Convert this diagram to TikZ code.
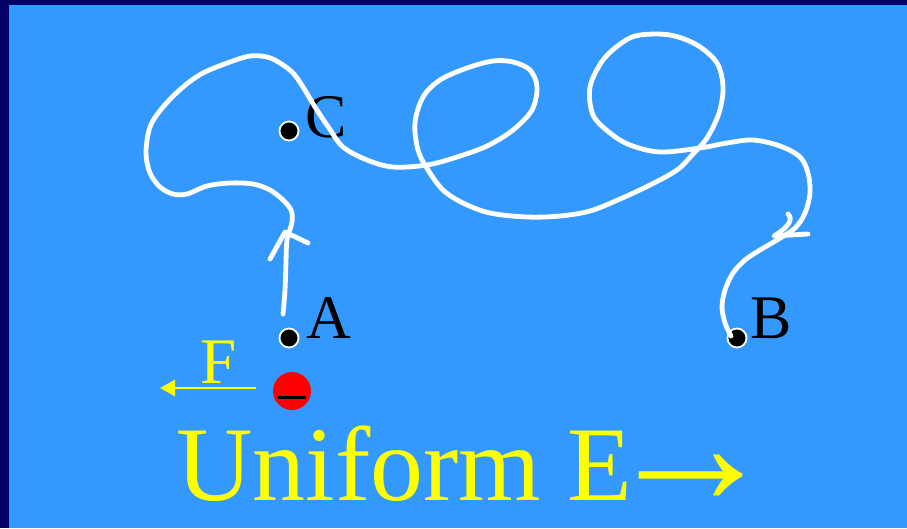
\documentclass[tikz,border=0pt]{standalone}
\usepackage{fontspec}
\setmainfont{Liberation Serif}
\usetikzlibrary{arrows.meta}
\definecolor{bgblue}{RGB}{51,153,255}
\definecolor{navy}{RGB}{0,0,102}
\definecolor{yel}{RGB}{255,255,0}
\tikzset{
  dot/.style={circle, fill=black, draw=white, line width=1.8pt, minimum size=19pt, inner sep=0pt},
  lbl/.style={anchor=base west, inner sep=0pt, font=\fontsize{62}{62}\selectfont, text=black},
  wire/.style={white, line width=4.8pt, line cap=round, line join=round},
}
\begin{document}
\begin{tikzpicture}[x=1pt,y=-1pt]
\useasboundingbox (0,0) rectangle (907,528);
\fill[navy] (0,0) rectangle (907,528);
\fill[bgblue] (9,5) rectangle (907,528);
% points
\node[dot] (A) at (289,338) {};
\node[dot] (B) at (737,338) {};
\node[dot] (C) at (289,131) {};
\node[lbl] (labA) at (306,338) {A};
\node[lbl] (labB) at (750,338) {B};
\node[lbl] (labC) at (305,137) {C};
% path
\coordinate (pstart) at (283,314);
\draw[wire] plot[smooth, tension=0.55] coordinates {
 (pstart) (285,290) (286,262) (287,240) (292,222) (291,210) (283,200) (270,190) (253,184) (230,183)
 (207,186) (187,194) (173,194) (160,187) (150,173) (146,153) (150,127) (163,107) (183,87) (203,73)
 (230,62) (250,56) (267,57) (280,63) (293,73) (303,87) (315,107) (329,128) (343,147) (367,160)
 (393,167) (427,165) (457,157) (487,146) (513,130) (532,110) (537,87) (530,70) (513,62) (493,61)
 (467,68) (440,80) (423,97) (415,123) (418,150) (428,170) (443,190) (463,203) (490,213) (527,217)
 (560,216) (590,211) (620,199) (650,185) (677,170) (693,154) (707,138) (719,113) (723,87) (717,63)
 (697,45) (670,35) (640,35) (623,42) (603,60) (590,87) (593,115) (610,133) (630,145) (660,152)
 (700,148) (727,143) (753,140) (780,146) (800,157) (808,173) (810,193) (805,213) (795,228)
 (777,240) (760,250) (745,260) (733,273) (725,290) (722,307) (725,323) (731,336)
};
% arrowheads
\draw[wire] (270,259) -- (285,232) -- (308,243);
\draw[wire] (788,214) .. controls (793,219) and (790,226) .. (774,236) -- (808,234);
% charge and force
\node[circle, fill=red, minimum size=38pt, inner sep=0pt] (q) at (292,391) {};
\draw[black, line width=3.5pt] ([xshift=-14pt, yshift=-6.5pt]q.center) -- ([xshift=14pt, yshift=-6.5pt]q.center);
\coordinate (fstart) at (256,388);
\coordinate (fend) at (160,388);
\draw[yel, line width=2.5pt, -{Triangle[length=15pt, width=16pt]}] (fstart) -- (fend);
\node[anchor=base west, inner sep=0pt, text=yel, font=\fontsize{65}{65}\selectfont] (F) at (200,383) {F};
% caption
\node[anchor=base west, inner sep=0pt, text=yel, font=\fontsize{106}{106}\selectfont] (cap) at (176,500) {Uniform E\hspace{-29pt}\raisebox{-4pt}{\scalebox{1.65}{→}}};
\end{tikzpicture}
\end{document}
